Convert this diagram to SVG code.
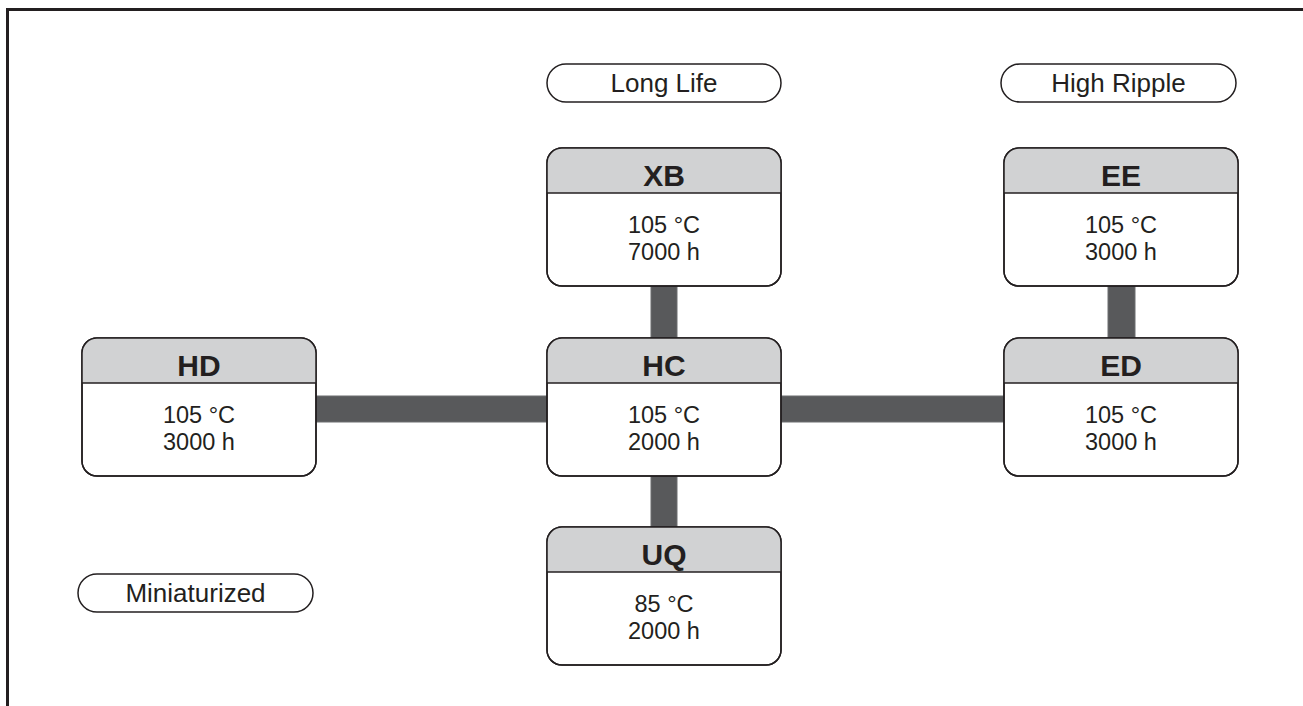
<svg xmlns="http://www.w3.org/2000/svg" width="1303" height="706" viewBox="0 0 1303 706">
<style>
.frame{fill:none;stroke:#231f20;stroke-width:3}
.pill{fill:#fff;stroke:#231f20;stroke-width:1.5}
.box{fill:#fff;stroke:#231f20;stroke-width:1.5}
.hdr{fill:#d1d2d3}
.sep{stroke:#231f20;stroke-width:1.5}
.conn{fill:#58595b;stroke:#6d6e70;stroke-width:1}
text{font-family:"Liberation Sans",Arial,sans-serif;fill:#231f20;text-anchor:middle}
.t{font-size:30px;font-weight:bold}
.b{font-size:23.5px}
.p{font-size:26px}
</style>
<defs>
<clipPath id="nc"><rect x="0" y="0" width="234" height="138" rx="15"/></clipPath>
<g id="nodeShape">
<rect class="box" x="0" y="0" width="234" height="138" rx="15"/>
<rect class="hdr" x="0" y="0" width="234" height="45" clip-path="url(#nc)"/>
<line class="sep" x1="0" y1="45" x2="234" y2="45"/>
<rect x="0" y="0" width="234" height="138" rx="15" fill="none" stroke="#231f20" stroke-width="1.5"/>
</g>
</defs>
<rect class="frame" x="7.5" y="9.5" width="1400" height="800"/>
<g id="connectors">
<rect class="conn" x="651" y="286" width="26" height="52"/>
<rect class="conn" x="651" y="475" width="26" height="52"/>
<rect class="conn" x="1108" y="286" width="27" height="52"/>
<rect class="conn" x="316" y="396" width="231" height="26"/>
<rect class="conn" x="781" y="396" width="223" height="26"/>
</g>
<g id="pill-longlife"><rect class="pill" x="547" y="64" width="234" height="38" rx="19"/><text class="p" x="664" y="92">Long Life</text></g>
<g id="pill-highripple"><rect class="pill" x="1001" y="64" width="235" height="38" rx="19"/><text class="p" x="1118.5" y="92">High Ripple</text></g>
<g id="pill-miniaturized"><rect class="pill" x="78" y="574" width="235" height="38" rx="19"/><text class="p" x="195.5" y="602">Miniaturized</text></g>
<g id="node-XB" transform="translate(547,148)"><use href="#nodeShape"/><text class="t" x="117" y="38">XB</text><text class="b" x="117" y="85">105 °C</text><text class="b" x="117" y="112">7000 h</text></g>
<g id="node-EE" transform="translate(1004,148)"><use href="#nodeShape"/><text class="t" x="117" y="38">EE</text><text class="b" x="117" y="85">105 °C</text><text class="b" x="117" y="112">3000 h</text></g>
<g id="node-HD" transform="translate(82,338)"><use href="#nodeShape"/><text class="t" x="117" y="38">HD</text><text class="b" x="117" y="85">105 °C</text><text class="b" x="117" y="112">3000 h</text></g>
<g id="node-HC" transform="translate(547,338)"><use href="#nodeShape"/><text class="t" x="117" y="38">HC</text><text class="b" x="117" y="85">105 °C</text><text class="b" x="117" y="112">2000 h</text></g>
<g id="node-ED" transform="translate(1004,338)"><use href="#nodeShape"/><text class="t" x="117" y="38">ED</text><text class="b" x="117" y="85">105 °C</text><text class="b" x="117" y="112">3000 h</text></g>
<g id="node-UQ" transform="translate(547,527)"><use href="#nodeShape"/><text class="t" x="117" y="38">UQ</text><text class="b" x="117" y="85">85 °C</text><text class="b" x="117" y="112">2000 h</text></g>
</svg>
